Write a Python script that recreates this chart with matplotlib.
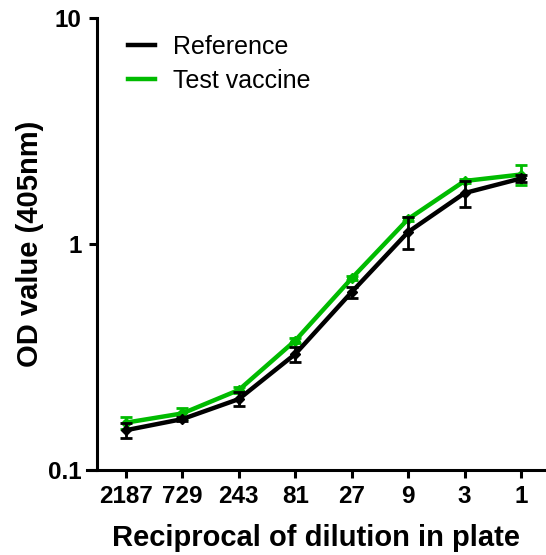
import numpy as np
import matplotlib
matplotlib.use('Agg')
import matplotlib.pyplot as plt
from matplotlib.lines import Line2D

# dilution labels and OD readings (405nm)
dilutions = ["2187", "729", "243", "81", "27", "9", "3", "1"]
ref_mean = [0.150, 0.168, 0.206, 0.326, 0.613, 1.13, 1.68, 1.95]
ref_sd = [0.011, 0.004, 0.015, 0.025, 0.035, 0.18, 0.22, 0.06]
test_mean = [0.162, 0.178, 0.226, 0.374, 0.705, 1.29, 1.90, 2.03]
test_sd = [0.010, 0.010, 0.006, 0.010, 0.015, 0.03, 0.04, 0.21]

GREEN = '#00bb00'
plt.rcParams['font.family'] = ['Liberation Sans', 'DejaVu Sans']

fig = plt.figure(figsize=(5.46, 5.55), dpi=100)
ax = fig.add_axes([87 / 546, 85 / 555, 459 / 546, 452 / 555])

x = np.arange(len(dilutions))
ax.errorbar(x, test_mean, yerr=test_sd, color=GREEN, lw=3.2, marker='D', ms=5,
            capsize=4, elinewidth=2, capthick=2, zorder=2)
ax.errorbar(x, ref_mean, yerr=ref_sd, color='black', lw=3.2, marker='D', ms=5,
            capsize=4, elinewidth=2, capthick=2, zorder=3)

ax.set_yscale('log')
ax.set_ylim(0.1, 10)
ax.set_yticks([0.1, 1, 10])
ax.set_yticklabels(['0.1', '1', '10'])
ax.yaxis.set_minor_locator(matplotlib.ticker.NullLocator())
ax.set_xlim(-0.691, 7.443)
ax.set_xticks(x)
ax.set_xticklabels(dilutions)

ax.spines['top'].set_visible(False)
ax.spines['right'].set_visible(False)
ax.spines['left'].set_position(('data', -0.514))
for s in ('left', 'bottom'):
    ax.spines[s].set_linewidth(2.2)
ax.tick_params(width=2.2, length=6, labelsize=17.5, pad=5)
for lab in ax.get_xticklabels() + ax.get_yticklabels():
    lab.set_fontweight('bold')

ax.set_xlabel('Reciprocal of dilution in plate', fontsize=21, fontweight='bold', labelpad=11)
ax.set_ylabel('OD value (405nm)', fontsize=21, fontweight='bold', labelpad=3)

# legend: plain line handles like the original
handles = [Line2D([], [], color='black', lw=3.2), Line2D([], [], color=GREEN, lw=3.2)]
ax.legend(handles, ['Reference', 'Test vaccine'], loc='upper left',
          bbox_to_anchor=(0.04, 1.012), frameon=False, fontsize=18,
          handlelength=1.1, handletextpad=0.7, labelspacing=0.4)

fig.savefig('out.png', dpi=100)
